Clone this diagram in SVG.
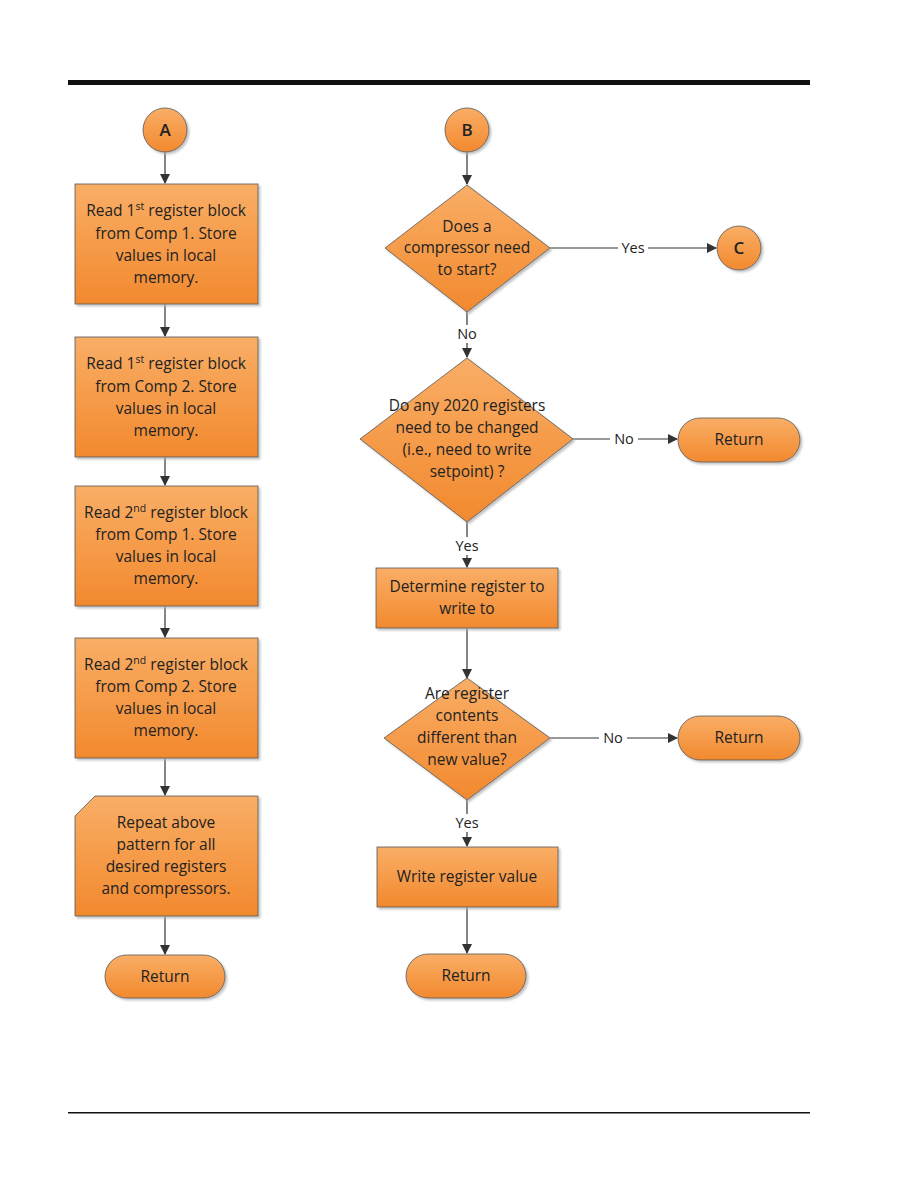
<svg xmlns="http://www.w3.org/2000/svg" width="918" height="1188" viewBox="0 0 918 1188">
<defs>
<linearGradient id="g" x1="0" y1="0" x2="0" y2="1">
<stop offset="0" stop-color="#F9AE66"/>
<stop offset="1" stop-color="#F2892E"/>
</linearGradient>
<filter id="sh" x="-10%" y="-10%" width="130%" height="130%">
<feOffset dx="2" dy="2" in="SourceAlpha" result="o"/>
<feGaussianBlur in="o" stdDeviation="1" result="b"/>
<feColorMatrix in="b" type="matrix" values="0 0 0 0 0.45  0 0 0 0 0.45  0 0 0 0 0.45  0 0 0 0.8 0" result="c"/>
<feMerge><feMergeNode in="c"/><feMergeNode in="SourceGraphic"/></feMerge>
</filter>
<marker id="ah" markerWidth="10" markerHeight="10" refX="9" refY="5" orient="auto" markerUnits="userSpaceOnUse">
<path d="M0,0 L10,5 L0,10 z" fill="#333"/>
</marker>
</defs>
<style>
.n{fill:url(#g);stroke:#555;stroke-width:0.8;filter:url(#sh)}
.t{font-family:"Open Sans","Liberation Sans",sans-serif;font-size:15.5px;fill:#222;text-anchor:middle}
.k{font-weight:600;font-size:17px}
.c{stroke:#333;stroke-width:1.2;fill:none;marker-end:url(#ah)}
.l{font-family:"Open Sans","Liberation Sans",sans-serif;font-size:14.5px;fill:#222;text-anchor:middle}
.lb{fill:#fff}
</style>
<rect x="68" y="80" width="742" height="5" fill="#111"/>
<rect x="68" y="1112" width="742" height="1.5" fill="#111"/>

<g id="connectors">
<path class="c" d="M165,152 V183"/>
<path class="c" d="M165,304 V336"/>
<path class="c" d="M165,457 V485"/>
<path class="c" d="M165,606 V637"/>
<path class="c" d="M165,758 V795"/>
<path class="c" d="M165,916 V954"/>
<path class="c" d="M467,152 V184"/>
<path class="c" d="M550,248 H716"/>
<rect class="lb" x="618" y="239" width="30" height="18"/>
<text class="l" x="633" y="253">Yes</text>
<path class="c" d="M467,312 V357"/>
<rect class="lb" x="453" y="325" width="28" height="18"/>
<text class="l" x="467" y="339">No</text>
<path class="c" d="M573,439 H677"/>
<rect class="lb" x="610" y="430" width="28" height="18"/>
<text class="l" x="624" y="444">No</text>
<path class="c" d="M467,522 V567"/>
<rect class="lb" x="451" y="537" width="32" height="18"/>
<text class="l" x="467" y="551">Yes</text>
<path class="c" d="M467,628 V678"/>
<path class="c" d="M550,738 H677"/>
<rect class="lb" x="599" y="729" width="28" height="18"/>
<text class="l" x="613" y="743">No</text>
<path class="c" d="M467,800 V846"/>
<rect class="lb" x="451" y="814" width="32" height="18"/>
<text class="l" x="467" y="828">Yes</text>
<path class="c" d="M467,907 V953"/>
</g>

<g id="nodeA">
<circle class="n" cx="165" cy="130" r="22"/>
<text class="t k" x="165" y="136">A</text>
</g>
<g id="read1">
<rect class="n" x="75" y="184" width="183" height="120"/>
<text class="t" x="166" y="216">Read 1<tspan font-size="10.5" dy="-6">st</tspan><tspan dy="6"> register block</tspan></text>
<text class="t" x="166" y="239">from Comp 1. Store</text>
<text class="t" x="166" y="261">values in local</text>
<text class="t" x="166" y="283">memory.</text>
</g>
<g id="read2">
<rect class="n" x="75" y="337" width="183" height="120"/>
<text class="t" x="166" y="369">Read 1<tspan font-size="10.5" dy="-6">st</tspan><tspan dy="6"> register block</tspan></text>
<text class="t" x="166" y="392">from Comp 2. Store</text>
<text class="t" x="166" y="414">values in local</text>
<text class="t" x="166" y="436">memory.</text>
</g>
<g id="read3">
<rect class="n" x="75" y="486" width="183" height="120"/>
<text class="t" x="166" y="518">Read 2<tspan font-size="10.5" dy="-6">nd</tspan><tspan dy="6">  register block</tspan></text>
<text class="t" x="166" y="540">from Comp 1. Store</text>
<text class="t" x="166" y="562">values in local</text>
<text class="t" x="166" y="584">memory.</text>
</g>
<g id="read4">
<rect class="n" x="75" y="638" width="183" height="120"/>
<text class="t" x="166" y="670">Read 2<tspan font-size="10.5" dy="-6">nd</tspan><tspan dy="6">  register block</tspan></text>
<text class="t" x="166" y="692">from Comp 2. Store</text>
<text class="t" x="166" y="714">values in local</text>
<text class="t" x="166" y="736">memory.</text>
</g>
<g id="repeat">
<path class="n" d="M95,796 H258 V916 H75 V816 Z"/>
<text class="t" x="166" y="828">Repeat above</text>
<text class="t" x="166" y="850">pattern for all</text>
<text class="t" x="166" y="872">desired registers</text>
<text class="t" x="166" y="894">and compressors.</text>
</g>
<g id="returnA">
<rect class="n" x="105" y="955" width="120" height="43" rx="21.5"/>
<text class="t" x="165" y="982">Return</text>
</g>

<g id="nodeB">
<circle class="n" cx="467" cy="130" r="22"/>
<text class="t k" x="467" y="136">B</text>
</g>
<g id="dec1">
<path class="n" d="M467,185 L550,248 L467,312 L385,248 Z"/>
<text class="t" x="467" y="232">Does a</text>
<text class="t" x="467" y="253">compressor need</text>
<text class="t" x="467" y="275">to start?</text>
</g>
<g id="nodeC">
<circle class="n" cx="739" cy="248" r="22"/>
<text class="t k" x="739" y="254">C</text>
</g>
<g id="dec2">
<path class="n" d="M467,358 L573,439 L467,522 L360,439 Z"/>
<text class="t" x="467" y="411">Do any 2020 registers</text>
<text class="t" x="467" y="433">need to be changed</text>
<text class="t" x="467" y="455">(i.e., need to write</text>
<text class="t" x="467" y="477">setpoint) ?</text>
</g>
<g id="return2">
<rect class="n" x="678" y="418" width="122" height="44" rx="22"/>
<text class="t" x="739" y="445">Return</text>
</g>
<g id="determine">
<rect class="n" x="376" y="568" width="182" height="60"/>
<text class="t" x="467" y="592">Determine register to</text>
<text class="t" x="467" y="614">write to</text>
</g>
<g id="dec3">
<path class="n" d="M467,678 L550,738 L467,800 L384,738 Z"/>
<text class="t" x="467" y="699">Are register</text>
<text class="t" x="467" y="721">contents</text>
<text class="t" x="467" y="743">different than</text>
<text class="t" x="467" y="765">new value?</text>
</g>
<g id="return3">
<rect class="n" x="678" y="716" width="122" height="44" rx="22"/>
<text class="t" x="739" y="743">Return</text>
</g>
<g id="write">
<rect class="n" x="377" y="847" width="181" height="60"/>
<text class="t" x="467" y="882">Write register value</text>
</g>
<g id="return4">
<rect class="n" x="406" y="954" width="120" height="44" rx="22"/>
<text class="t" x="466" y="981">Return</text>
</g>
</svg>
